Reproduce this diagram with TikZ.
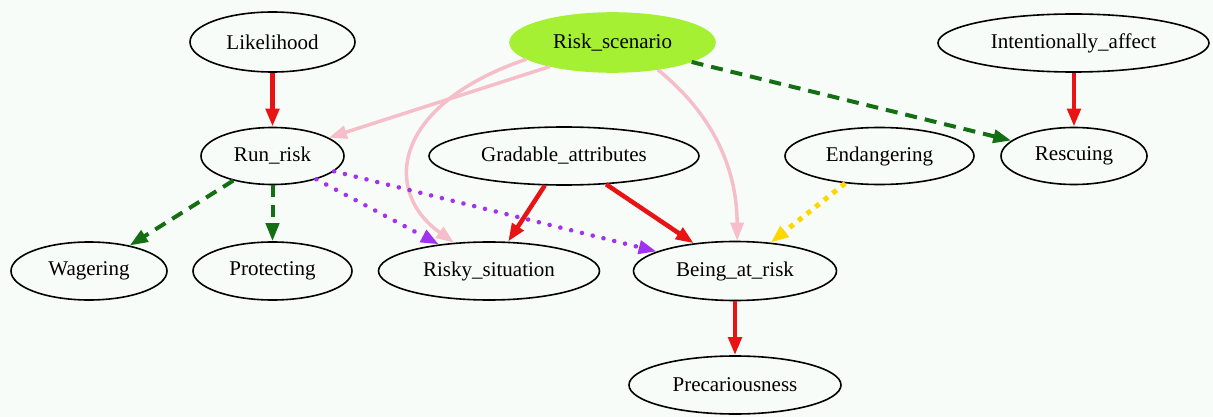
\documentclass[tikz,border=0pt]{standalone}
\usepackage{fontspec}
\setmainfont{Liberation Serif}
\usetikzlibrary{shapes.geometric,arrows.meta}
\definecolor{bg}{RGB}{248,252,248}
\definecolor{gvred}{RGB}{232,20,20}
\definecolor{gvgreen}{RGB}{20,110,20}
\definecolor{gvpurple}{RGB}{160,50,240}
\definecolor{gvgold}{RGB}{255,215,0}
\definecolor{gvpink}{RGB}{245,190,200}
\definecolor{gvlime}{RGB}{165,240,50}
\begin{document}
\begin{tikzpicture}[x=1pt,y=-1pt,
  nd/.style={ellipse,draw=black,line width=1.6pt,inner sep=0pt,font=\fontsize{21}{25}\selectfont},
  tipA/.style={-{Triangle[length=18pt,width=13pt]}},
  redE/.style={tipA,draw=gvred,fill=gvred,line width=4.5pt},
  pinkE/.style={tipA,draw=gvpink,line width=3.5pt},
  greenE/.style={tipA,draw=gvgreen,line width=4pt,dash pattern=on 12pt off 8pt},
  purpleE/.style={tipA,draw=gvpurple,line width=4.5pt,line cap=round,dash pattern=on 0.1pt off 11pt},
  goldE/.style={tipA,draw=gvgold,line width=5pt,dash pattern=on 5pt off 6pt}
]
\fill[bg] (0,0) rectangle (1213,417);
\useasboundingbox (0,0) rectangle (1213,417);

\node[nd,minimum width=165pt,minimum height=60pt] (lik) at (272.5,42) {Likelihood};
\node[nd,draw=gvlime,fill=gvlime,minimum width=205pt,minimum height=59pt] (rs) at (612.5,42.5) {Risk\_scenario};
\node[nd,minimum width=271pt,minimum height=58pt] (ia) at (1073.5,43) {Intentionally\_affect};
\node[nd,minimum width=143pt,minimum height=57pt] (run) at (272.5,156) {Run\_risk};
\node[nd,minimum width=270pt,minimum height=58pt] (ga) at (564,156) {Gradable\_attributes};
\node[nd,minimum width=189pt,minimum height=57pt] (endg) at (879.5,156) {Endangering};
\node[nd,minimum width=146pt,minimum height=57pt] (resc) at (1074,156) {Rescuing};
\node[nd,minimum width=156pt,minimum height=58pt] (wag) at (89,271) {Wagering};
\node[nd,minimum width=159pt,minimum height=58pt] (prot) at (272.5,271) {Protecting};
\node[nd,minimum width=221pt,minimum height=58pt] (risky) at (489,271) {Risky\_situation};
\node[nd,minimum width=203pt,minimum height=59pt] (bar) at (735,271) {Being\_at\_risk};
\node[nd,minimum width=212pt,minimum height=58pt] (prec) at (735,385) {Precariousness};

% pink curves from Risk_scenario
\draw[pinkE] (rs.201) -- (run.18);
\draw[pinkE] (rs.191) .. controls +(-133,45) and +(-73,-52) .. (risky.141);
\draw[pinkE] (rs.329) .. controls +(62,50) and +(0,-63) .. (bar.86);

% red
\draw[redE] (lik) -- (run);
\draw[redE] (ia.south -| resc.north) -- (resc);
\draw[redE] (ga) -- (risky);
\draw[redE] (ga) -- (bar);
\draw[redE] (bar) -- (prec);

% green dashed
\draw[greenE] (rs) -- (resc);
\draw[greenE] (run) -- (wag);
\draw[greenE] (run) -- (prot);

% purple dotted
\draw[purpleE] (run) -- (risky);
\draw[purpleE] (run) -- (bar);

% gold dotted
\draw[goldE] (endg) -- (bar);
\end{tikzpicture}
\end{document}
